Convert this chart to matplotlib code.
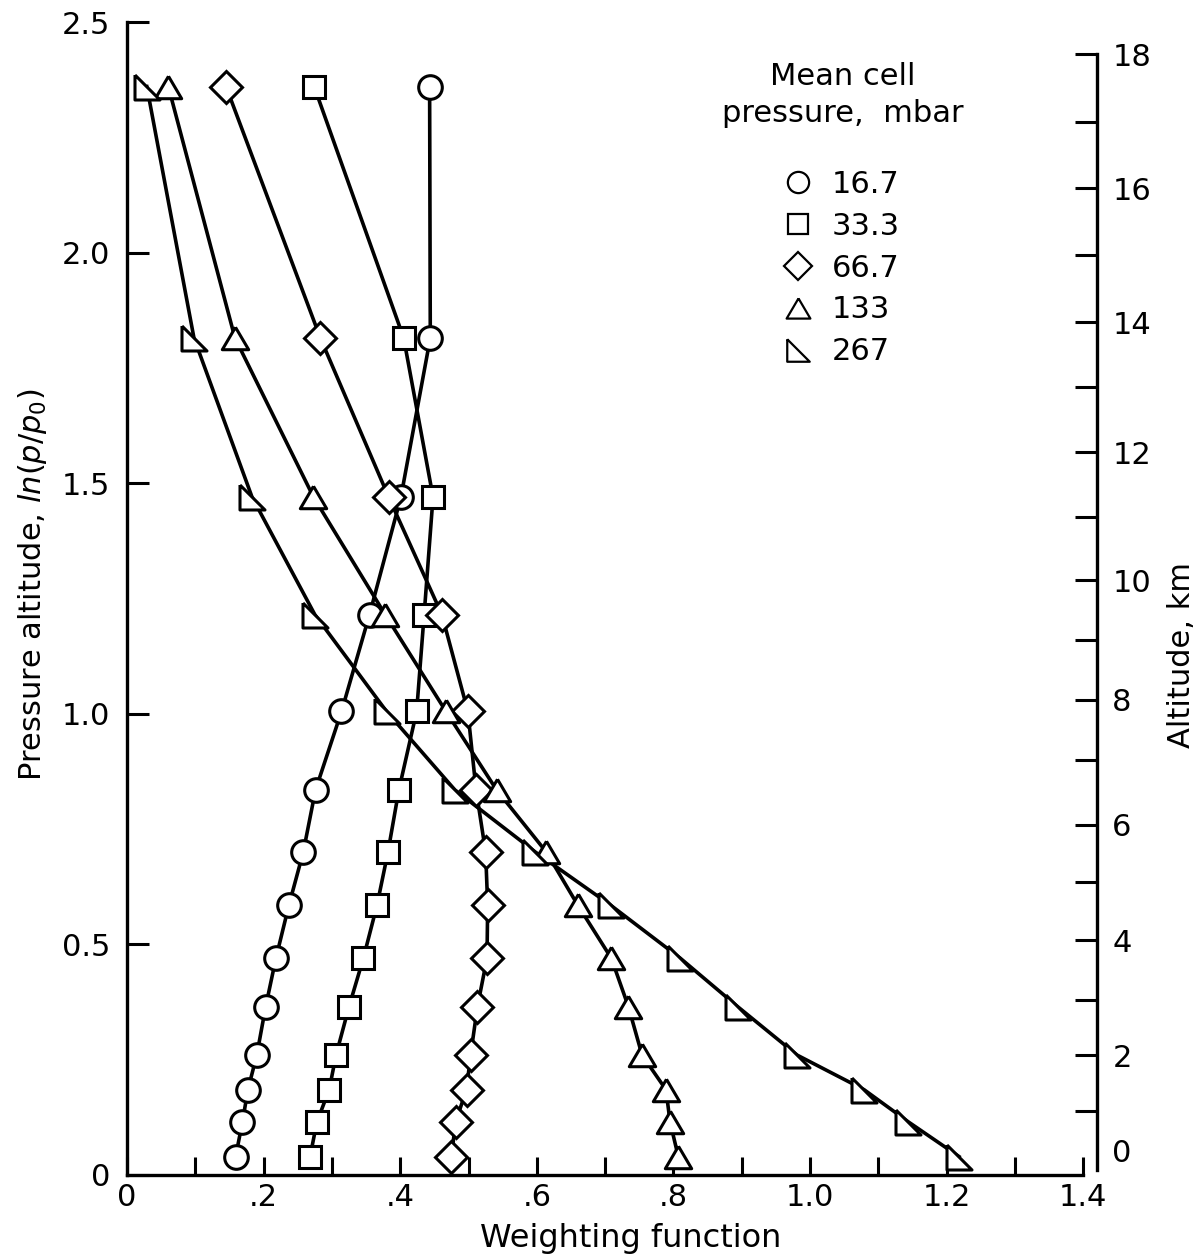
import numpy as np
import matplotlib
matplotlib.use("Agg")
import matplotlib.pyplot as plt
from matplotlib import font_manager
from matplotlib.lines import Line2D

# pick a narrow face if one is installed
names = {f.name for f in font_manager.fontManager.ttflist}
fam = ["Liberation Sans Narrow", "DejaVu Sans"] if "Liberation Sans Narrow" in names else ["DejaVu Sans"]
plt.rcParams["font.family"] = fam
plt.rcParams["mathtext.fontset"] = "dejavusans"

# pressure altitude levels ln(p0/p) shared by every curve
levels = [0.04, 0.115, 0.185, 0.26, 0.365, 0.47, 0.585, 0.70, 0.835, 1.005, 1.215, 1.47, 1.815, 2.36]

# weighting function for each mean cell pressure (mbar)
w_16_7 = [0.159, 0.169, 0.177, 0.190, 0.203, 0.218, 0.237, 0.258, 0.276, 0.314, 0.355, 0.401, 0.444, 0.443]
w_33_3 = [0.268, 0.278, 0.296, 0.306, 0.325, 0.346, 0.366, 0.382, 0.398, 0.424, 0.435, 0.448, 0.405, 0.274]
w_66_7 = [0.475, 0.481, 0.497, 0.503, 0.513, 0.527, 0.528, 0.525, 0.511, 0.499, 0.461, 0.383, 0.283, 0.145]
w_133 = [0.807, 0.795, 0.789, 0.754, 0.734, 0.709, 0.660, 0.614, 0.541, 0.467, 0.378, 0.273, 0.158, 0.0605]
w_267 = [1.218, 1.144, 1.079, 0.981, 0.894, 0.810, 0.708, 0.598, 0.480, 0.380, 0.275, 0.183, 0.098, 0.029]

cell_labels = ["16.7", "33.3", "66.7", "133", "267"]

# axis ticks
x_ticks = [0, 0.1, 0.2, 0.3, 0.4, 0.5, 0.6, 0.7, 0.8, 0.9, 1.0, 1.1, 1.2, 1.3, 1.4]
x_ticklabels = ["0", "", ".2", "", ".4", "", ".6", "", ".8", "", "1.0", "", "1.2", "", "1.4"]
y_ticks = [0, 0.5, 1.0, 1.5, 2.0, 2.5]
y_ticklabels = ["0", "0.5", "1.0", "1.5", "2.0", "2.5"]

# altitude scale (km) against ln(p0/p)
alt_km = [0, 1, 2, 3, 4, 5, 6, 7, 8, 9, 10, 11, 12, 13, 14, 15, 16, 17, 18]
alt_ln = [0.054, 0.139, 0.26, 0.379, 0.509, 0.635, 0.759, 0.899, 1.03, 1.16, 1.29,
          1.426, 1.567, 1.708, 1.849, 1.994, 2.139, 2.284, 2.43]

tri = [(0, 0.85), (-1, -0.85), (1, -0.85), (0, 0.85)]
rtri = [(-1, 1), (-1, -1), (1, -1), (-1, 1)]
markers = ["o", "s", "D", tri, rtri]
msizes = [17, 16, 16, 19, 18]
series = [w_16_7, w_33_3, w_66_7, w_133, w_267]

W, H = 1204, 1260
fig = plt.figure(figsize=(W / 100, H / 100), dpi=100)
ax = fig.add_axes([127 / W, (H - 1175) / H, (1097 - 127) / W, (1175 - 22) / H])
ax.set_xlim(0, 1.42)
ax.set_ylim(0, 2.5)

for w in series:
    ax.plot(w, levels, color="black", lw=2.6, zorder=2, clip_on=False)
for w, m, s in zip(series, markers, msizes):
    ax.plot(w, levels, ls="none", marker=m, ms=s, mfc="white", mec="black",
            mew=2.2, zorder=3, clip_on=False)

ax.spines["top"].set_visible(False)
ax.spines["right"].set_visible(False)
ax.spines["bottom"].set_bounds(0, 1.4)
for sp in ax.spines.values():
    sp.set_linewidth(2.4)

ax.set_xticks(x_ticks)
ax.set_xticklabels(x_ticklabels)
ax.set_yticks(y_ticks)
ax.set_yticklabels(y_ticklabels)
ax.tick_params(axis="x", direction="in", length=13, width=2.2, pad=6, labelsize=22)
ax.tick_params(axis="y", direction="in", length=16, width=2.2, pad=12, labelsize=22)

ax2 = ax.twinx()
ax2.set_ylim(0, 2.5)
for k in ["top", "left", "bottom"]:
    ax2.spines[k].set_visible(False)
ax2.spines["right"].set_bounds(0.01, 2.43)
ax2.spines["right"].set_linewidth(2.4)
ax2.set_yticks(alt_ln)
ax2.set_yticklabels([str(k) if k % 2 == 0 else "" for k in alt_km])
ax2.tick_params(axis="y", direction="in", length=16, width=2.2, pad=11, labelsize=22)
ax2.yaxis.get_major_ticks()[0].tick2line.set_visible(False)

fig.text(33 / W, 1 - 585 / H, r"Pressure altitude, $ln(p/p_0)$", rotation=90,
         ha="center", va="center", fontsize=22)
fig.text(1182 / W, 1 - 655 / H, "Altitude, km", rotation=90,
         ha="center", va="center", fontsize=22)
fig.text(631 / W, 1 - 1238 / H, "Weighting function", ha="center", va="center", fontsize=23)

fig.text(843 / W, 1 - 95 / H, "Mean cell\npressure,  mbar", ha="center", va="center",
         fontsize=22, linespacing=1.35)

handles = [Line2D([], [], ls="none", marker=m, ms=s * 0.9, mfc="white", mec="black", mew=1.6)
           for m, s in zip(markers, msizes)]
ax.legend(handles, cell_labels, loc="upper left", bbox_to_anchor=(783 / W, 1 - 170 / H),
          bbox_transform=fig.transFigure, frameon=False, fontsize=22, handlelength=1.0,
          handletextpad=0.6, labelspacing=0.42, borderpad=0, borderaxespad=0)

fig.savefig("out.png", dpi=100)
